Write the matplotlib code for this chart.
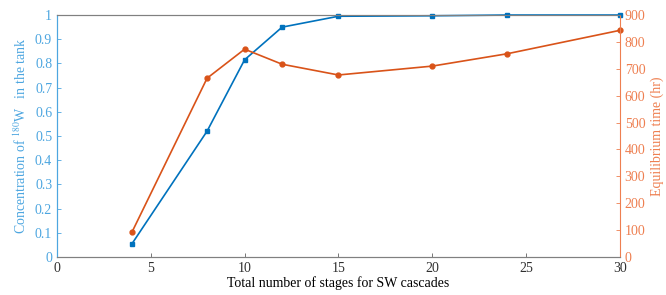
import matplotlib.pyplot as plt

stages = [4, 8, 10, 12, 15, 20, 24, 30]
conc = [0.055, 0.52, 0.815, 0.95, 0.995, 0.997, 1.0, 1.0]
eq_time = [93, 665, 773, 717, 677, 710, 756, 843]

plt.rcParams['font.family'] = ['Liberation Serif', 'DejaVu Serif']
plt.rcParams['mathtext.fontset'] = 'stix'
plt.rcParams['font.size'] = 10

blue = '#0072BD'
orange = '#D95319'
lblue = '#4DA6E0'
lorange = '#EE7F50'

fig = plt.figure(figsize=(6.66, 2.95), dpi=100)
ax1 = fig.add_axes([0.0856, 0.129, 0.845, 0.82])
ax2 = ax1.twinx()

ax1.plot(stages, conc, color=blue, marker='s', markersize=3.5, lw=1.2, clip_on=False, zorder=5)
ax2.plot(stages, eq_time, color=orange, marker='o', markersize=3.5, lw=1.2, clip_on=False)

ax1.set_xlim(0, 30)
ax1.set_ylim(0, 1)
ax2.set_ylim(0, 900)
ax1.set_yticks([i / 10 for i in range(11)])
ax1.set_yticklabels(['0', '0.1', '0.2', '0.3', '0.4', '0.5', '0.6', '0.7', '0.8', '0.9', '1'])
ax2.set_yticks(range(0, 901, 100))
ax1.set_xticks(range(0, 31, 5))

ax1.set_xlabel('Total number of stages for SW cascades', labelpad=1)
ax1.set_ylabel('Concentration of $^{180}$W   in the tank', color=lblue, labelpad=4)
ax2.set_ylabel('Equilibrium time (hr)', color=lorange, labelpad=4)

for ax in (ax1, ax2):
    ax.tick_params(direction='in', length=3, width=0.6)
    for s in ax.spines.values():
        s.set_color('#808080')
        s.set_linewidth(0.8)
ax1.tick_params(axis='y', colors=lblue)
ax1.tick_params(axis='x', colors='#606060', labelcolor='#303030')
ax2.tick_params(axis='y', colors=lorange)
ax2.spines['left'].set_color(lblue)
ax2.spines['right'].set_color(lorange)
ax1.spines['left'].set_color(lblue)
ax1.spines['right'].set_visible(False)

fig.savefig('out.png', dpi=100)
